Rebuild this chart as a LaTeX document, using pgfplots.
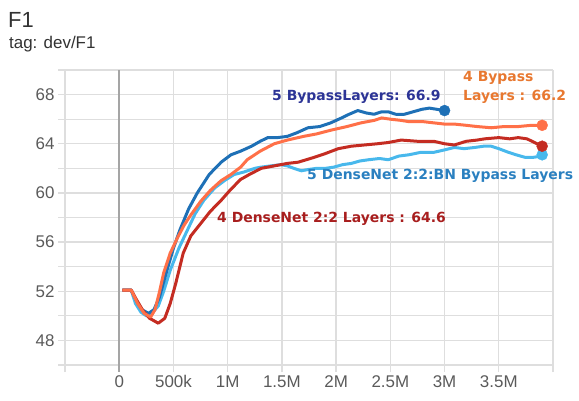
\documentclass[border=0pt]{standalone}
\usepackage{fontspec}
\setmainfont{Liberation Sans}
\newfontfamily\annot{DejaVu Sans}
\usepackage{pgfplots}
\pgfplotsset{compat=1.18}
\definecolor{cDB}{RGB}{30,112,182}
\definecolor{cOR}{RGB}{255,112,72}
\definecolor{cDR}{RGB}{196,44,34}
\definecolor{cLB}{RGB}{72,184,236}
\definecolor{tDB}{RGB}{44,52,150}
\definecolor{tOR}{RGB}{232,120,48}
\definecolor{tLB}{RGB}{42,128,192}
\definecolor{tDR}{RGB}{168,30,30}
\definecolor{gridgray}{RGB}{222,222,222}
\definecolor{zerogray}{RGB}{165,165,165}
\definecolor{labgray}{RGB}{90,90,90}
\definecolor{titlecol}{RGB}{50,50,50}
\begin{document}
\begin{tikzpicture}[x=1bp,y=1bp]
\useasboundingbox (0,0) rectangle (579,400);
\node[anchor=base west, inner sep=0, font=\fontsize{22}{22}\selectfont, text=titlecol] at (8,373) {F1};
\node[anchor=base west, inner sep=0, font=\fontsize{17}{17}\selectfont, text=titlecol] at (9,352) {tag: dev/F1};
\begin{axis}[
  at={(65bp,35bp)}, anchor=south west, scale only axis,
  width=488bp, height=295bp,
  xmin=-0.5, xmax=4, ymin=46, ymax=70,
  axis line style={draw=none},
  xtick={-0.5,0,0.5,1,1.5,2,2.5,3,3.5,4},
  xticklabels={,0,500k,1M,1.5M,2M,2.5M,3M,3.5M,},
  ytick={46,48,50,52,54,56,58,60,62,64,66,68,70},
  yticklabels={,48,,52,,56,,60,,64,,68,},
  xtick pos=bottom, ytick pos=left,
  tick align=outside,
  major tick length=7bp,
  tick style={color=gridgray, line width=1.3bp},
  grid=major,
  major grid style={color=gridgray, line width=1.3bp},
  /pgf/number format/assume math mode=true,
  ticklabel style={font=\fontsize{17}{17}\selectfont, text=labgray},
  clip=false,
]
\draw[color=zerogray, line width=2bp] (axis cs:0,45.45) -- (axis cs:0,70);
% 5 DenseNet 2:2:BN Bypass Layers
\addplot[color=cLB, line width=3bp, line join=round] coordinates {
(0.03,52.1)(0.11,52.1)(0.15,51.0)(0.2,50.3)(0.25,50.0)(0.3,50.2)(0.36,50.8)(0.41,52.0)(0.47,53.7)(0.55,55.5)(0.63,57.0)(0.7,58.3)(0.78,59.4)(0.88,60.4)(0.97,61.0)(1.06,61.5)(1.15,61.7)(1.25,62.0)(1.31,62.1)(1.4,62.2)(1.49,62.3)(1.55,62.2)(1.61,62.0)(1.68,61.8)(1.74,61.9)(1.82,62.0)(1.9,62.0)(1.98,62.1)(2.06,62.3)(2.14,62.4)(2.22,62.6)(2.3,62.7)(2.4,62.8)(2.48,62.7)(2.58,63.0)(2.67,63.1)(2.78,63.3)(2.9,63.3)(3.0,63.5)(3.09,63.7)(3.18,63.6)(3.28,63.7)(3.36,63.8)(3.43,63.8)(3.5,63.6)(3.59,63.3)(3.66,63.1)(3.74,62.9)(3.82,62.9)(3.9,63.0)
};
% 5 Bypass Layers
\addplot[color=cDB, line width=3bp, line join=round] coordinates {
(0.03,52.1)(0.11,52.1)(0.16,51.2)(0.21,50.5)(0.27,50.2)(0.32,50.5)(0.37,51.5)(0.44,53.7)(0.5,55.5)(0.56,57.0)(0.64,58.7)(0.72,60.0)(0.83,61.5)(0.94,62.5)(1.03,63.1)(1.12,63.4)(1.22,63.8)(1.3,64.2)(1.37,64.5)(1.46,64.5)(1.55,64.6)(1.64,64.9)(1.74,65.3)(1.85,65.4)(1.95,65.7)(2.05,66.1)(2.12,66.4)(2.2,66.7)(2.28,66.5)(2.35,66.4)(2.42,66.6)(2.48,66.6)(2.55,66.4)(2.63,66.4)(2.71,66.6)(2.79,66.8)(2.86,66.9)(2.93,66.8)(3.0,66.7)
};
% 4 DenseNet 2:2 Layers
\addplot[color=cDR, line width=3bp, line join=round] coordinates {
(0.03,52.1)(0.11,52.1)(0.16,51.3)(0.22,50.4)(0.28,49.8)(0.36,49.4)(0.42,49.8)(0.47,51.0)(0.52,52.6)(0.59,55.1)(0.66,56.5)(0.75,57.5)(0.84,58.5)(0.94,59.4)(1.03,60.3)(1.12,61.1)(1.2,61.5)(1.31,62.0)(1.43,62.2)(1.55,62.4)(1.65,62.5)(1.8,62.9)(1.9,63.2)(2.02,63.6)(2.14,63.8)(2.26,63.9)(2.38,64.0)(2.48,64.1)(2.6,64.3)(2.75,64.2)(2.9,64.2)(3.0,64.0)(3.09,63.9)(3.2,64.2)(3.3,64.3)(3.37,64.4)(3.5,64.5)(3.6,64.4)(3.68,64.5)(3.76,64.4)(3.83,64.1)(3.9,63.8)
};
% 4 Bypass Layers
\addplot[color=cOR, line width=3bp, line join=round] coordinates {
(0.03,52.1)(0.11,52.1)(0.17,51.0)(0.23,50.2)(0.29,49.9)(0.33,50.5)(0.37,51.9)(0.41,53.5)(0.47,55.1)(0.54,56.4)(0.6,57.4)(0.66,58.2)(0.75,59.3)(0.84,60.2)(0.94,61.0)(1.03,61.5)(1.12,62.1)(1.18,62.7)(1.3,63.4)(1.43,64.0)(1.55,64.3)(1.7,64.6)(1.82,64.8)(1.95,65.1)(2.1,65.4)(2.23,65.7)(2.35,65.9)(2.42,66.1)(2.5,66.0)(2.6,65.9)(2.67,65.8)(2.8,65.8)(2.9,65.7)(3.0,65.6)(3.09,65.6)(3.2,65.5)(3.3,65.4)(3.43,65.3)(3.55,65.4)(3.68,65.4)(3.8,65.5)(3.9,65.5)
};
\addplot[only marks, mark=*, mark size=5.5bp, color=cLB] coordinates {(3.9,63.1)};
\addplot[only marks, mark=*, mark size=5.5bp, color=cDR] coordinates {(3.9,63.8)};
\addplot[only marks, mark=*, mark size=5.5bp, color=cOR] coordinates {(3.9,65.5)};
\addplot[only marks, mark=*, mark size=5.5bp, color=cDB] coordinates {(3.0,66.7)};
\end{axis}
\begin{scope}[every node/.style={anchor=west, inner sep=0, font=\annot\bfseries\fontsize{14}{14}\selectfont}]
\node[text=tDB] at (272,303) {5 BypassLayers: 66.9};
\node[text=tOR] at (463,322) {4 Bypass};
\node[text=tOR] at (463,303) {Layers : 66.2};
\node[text=tLB] at (307,224) {5 DenseNet 2:2:BN Bypass Layers};
\node[text=tDR] at (217,181) {4 DenseNet 2:2 Layers : 64.6};
\end{scope}
\end{tikzpicture}
\end{document}
